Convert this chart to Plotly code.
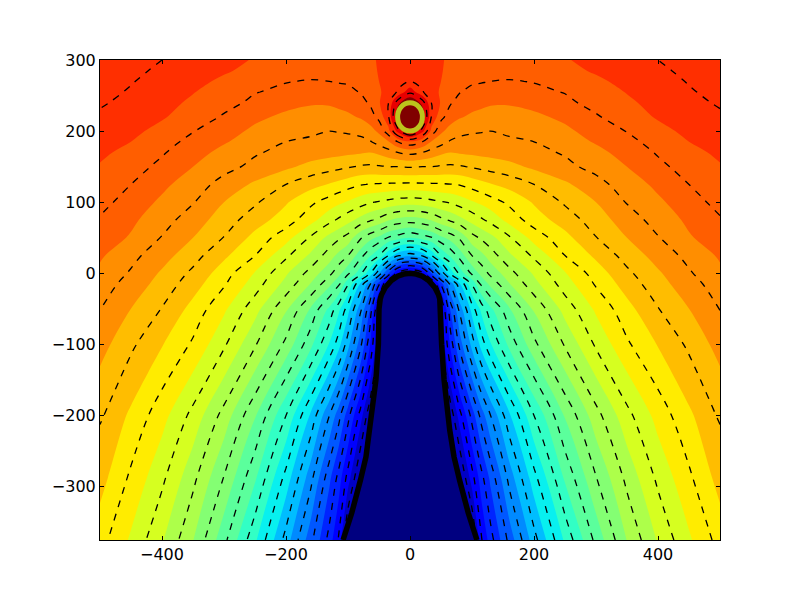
import numpy as np
import plotly.graph_objects as go

# Half of the field (the picture is mirror symmetric about x = 0)
x_half = [0, 20, 35, 50, 65, 80, 100, 115, 130, 160, 200, 250, 300, 350, 400, 450, 500]
y_rows = [-375, -288, -200, -100, -52, -15, 0, 25, 50, 75, 100, 125, 150, 170, 185, 200, 220, 240, 255, 270, 285, 300]

z_half = [
 [-3, -3, -3, -3, -3, -2.5, -0.8, 0.94, 1.78, 3.16, 4.79, 6.6, 8.15, 9.52, 10.56, 11.42, 12.2],
 [-3, -3, -3, -3, -2.5, -0.7, 0.77, 1.8, 2.63, 4.17, 5.81, 7.58, 8.97, 10.14, 11.11, 11.9, 12.7],
 [-3, -3, -3, -3, -0.4, 0.77, 2.2, 3.2, 4, 5.4, 7, 8.55, 9.81, 10.84, 11.69, 12.4, 13.05],
 [-3, -3, -3, -0.2, 1.6, 3.17, 4.7, 5.7, 6.45, 7.64, 8.86, 10.06, 11.08, 11.92, 12.53, 13.1, 13.7],
 [-3, -3, -3, 0, 2.5, 4.1, 5.67, 6.6, 7.33, 8.39, 9.54, 10.67, 11.57, 12.31, 12.96, 13.48, 14],
 [-2, -1.5, -0.1, 2.1, 4.1, 5.4, 7.07, 8.1, 8.64, 9.47, 10.33, 11.25, 12.06, 12.72, 13.3, 13.8, 14.25],
 [0, 0.7, 2.57, 4.5, 6.08, 7.15, 8.11, 8.67, 9.13, 9.8, 10.57, 11.46, 12.24, 12.89, 13.43, 13.94, 14.39],
 [4.67, 5.1, 6, 7, 7.6, 8.2, 9, 9.35, 9.75, 10.4, 11.1, 12, 12.6, 13.2, 13.7, 14.15, 14.57],
 [7.5, 7.75, 7.95, 8.38, 8.68, 9.07, 9.8, 10.08, 10.34, 10.93, 11.7, 12.34, 12.98, 13.5, 13.97, 14.45, 14.76],
 [9.25, 9.35, 9.55, 9.85, 10.08, 10.33, 10.67, 10.92, 11.15, 11.68, 12.25, 12.73, 13.25, 13.75, 14.2, 14.6, 14.95],
 [10.7, 10.75, 10.85, 10.95, 11.05, 11.22, 11.45, 11.6, 11.78, 12.1, 12.55, 13.07, 13.5, 14.03, 14.4, 14.8, 15.15],
 [11.9, 11.92, 11.93, 11.95, 11.98, 12.03, 12.2, 12.34, 12.47, 12.67, 13, 13.41, 13.83, 14.23, 14.62, 15, 15.29],
 [13.05, 13, 13, 12.95, 12.92, 12.95, 13.05, 13.13, 13.2, 13.35, 13.6, 13.88, 14.15, 14.5, 14.88, 15.2, 15.46],
 [14.15, 14, 13.8, 13.6, 13.5, 13.55, 13.6, 13.65, 13.68, 13.75, 13.87, 14.05, 14.35, 14.7, 15.05, 15.35, 15.6],
 [15.4, 15, 14.45, 14.2, 13.95, 13.88, 13.85, 13.88, 13.9, 13.95, 14, 14.25, 14.55, 14.85, 15.2, 15.5, 15.75],
 [18, 16.7, 15.3, 14.6, 14.3, 14.12, 14.05, 14.02, 14, 14.05, 14.12, 14.4, 14.7, 15.02, 15.35, 15.62, 15.85],
 [18.4, 18, 15.9, 15.15, 14.75, 14.55, 14.4, 14.35, 14.32, 14.3, 14.4, 14.6, 14.95, 15.25, 15.55, 15.75, 15.93],
 [18.2, 17.3, 15.95, 15.45, 15.05, 14.85, 14.7, 14.62, 14.55, 14.55, 14.65, 14.9, 15.15, 15.42, 15.65, 15.88, 16.05],
 [16.85, 16.05, 15.65, 15.45, 15.2, 15.02, 14.9, 14.85, 14.82, 14.82, 14.9, 15.02, 15.3, 15.52, 15.72, 15.95, 16.15],
 [16, 15.85, 15.65, 15.5, 15.35, 15.22, 15.05, 15.03, 15, 14.97, 15.02, 15.2, 15.42, 15.62, 15.82, 16.03, 16.25],
 [15.9, 15.8, 15.65, 15.52, 15.42, 15.33, 15.25, 15.2, 15.17, 15.15, 15.2, 15.38, 15.55, 15.75, 15.92, 16.1, 16.33],
 [15.85, 15.75, 15.63, 15.52, 15.46, 15.42, 15.38, 15.34, 15.33, 15.33, 15.36, 15.46, 15.66, 15.85, 16, 16.2, 16.42],
]

# Outline of the electrode (right side, bottom to apex)
electrode_half_x = [108, 94, 80, 71, 64, 55, 51, 50, 48, 46, 40, 30, 20, 10, 0]
electrode_half_y = [-375, -337, -291, -258, -220, -150, -100, -50, -36, -30, -20, -10, -4, -1, 0]

charge_x, charge_y, charge_r = 0, 220, 20

x_ticks = [-400, -200, 0, 200, 400]
y_ticks = [-300, -200, -100, 0, 100, 200, 300]

band_colors = [
    [0, "rgb(0,0,197)"], [0.056, "rgb(0,0,255)"], [0.072, "rgb(0,0,255)"],
    [0.311, "rgb(0,219,255)"], [0.322, "rgb(0,230,247)"], [0.35, "rgb(21,255,226)"],
    [0.644, "rgb(238,255,8)"], [0.656, "rgb(247,245,0)"], [0.667, "rgb(255,236,0)"],
    [0.922, "rgb(255,19,0)"], [0.944, "rgb(232,0,0)"], [1, "rgb(128,0,0)"],
]

xs = np.array(x_half, dtype=float)
full_x = np.concatenate([-xs[:0:-1], xs])
zh = np.array(z_half, dtype=float)
full_z = np.hstack([zh[:, :0:-1], zh])

ex = list(electrode_half_x) + [-v for v in electrode_half_x[-2::-1]]
ey = list(electrode_half_y) + list(electrode_half_y[-2::-1])

fig = go.Figure()
fig.add_trace(go.Contour(
    x=full_x, y=y_rows, z=full_z, colorscale=band_colors, showscale=False, hoverinfo="skip",
    contours=dict(coloring="fill", start=0.5, end=17.5, size=1, showlines=False),
    line=dict(width=0),
))
fig.add_trace(go.Contour(
    x=full_x, y=y_rows, z=full_z, showscale=False, hoverinfo="skip",
    contours=dict(coloring="none", start=0, end=17, size=1),
    line=dict(color="black", width=1.3, dash="7px,7px"),
))
fig.add_trace(go.Scatter(x=ex, y=ey, mode="none", fill="toself", fillcolor="#000080", hoverinfo="skip"))
fig.add_trace(go.Scatter(x=ex, y=ey, mode="lines", line=dict(color="black", width=5.5), hoverinfo="skip"))

fig.add_shape(type="circle", xref="x", yref="y",
              x0=charge_x - charge_r, x1=charge_x + charge_r,
              y0=charge_y - charge_r, y1=charge_y + charge_r,
              fillcolor="#800000", line=dict(color="#BCC41C", width=5))

axis = dict(showgrid=False, zeroline=False, showline=True, linecolor="black", linewidth=1,
            mirror="allticks", ticks="inside", ticklen=4, tickwidth=1, tickcolor="black",
            tickfont=dict(family="DejaVu Sans", size=16, color="black"))
fig.update_layout(
    width=792, height=592, showlegend=False,
    margin=dict(l=92, r=80, t=52, b=60),
    paper_bgcolor="white", plot_bgcolor="white",
    xaxis=dict(range=[-500, 500], tickvals=x_ticks, **axis),
    yaxis=dict(range=[-375, 300], tickvals=y_ticks, **axis),
)
fig.write_html("out.html")
